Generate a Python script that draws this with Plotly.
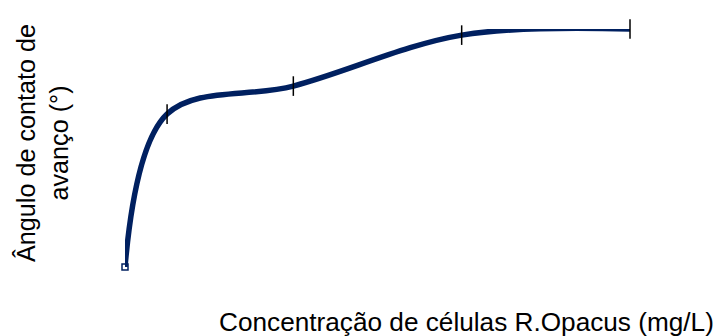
import plotly.graph_objects as go

# Cell concentration (mg/L) and advancing contact angle (degrees)
concentracao = [0, 25, 100, 200, 300]
angulo = [40.0, 70.0, 75.5, 85.5, 86.7]

x_title = "Concentração de células R.Opacus (mg/L)"
y_title = "Ângulo de contato de<br>avanço (°)"

navy = "#002060"
font_family = "Liberation Sans, Arial, sans-serif"

fig = go.Figure()

# smoothed curve
fig.add_trace(go.Scatter(
    x=concentracao, y=angulo, mode="lines",
    line=dict(color=navy, width=5.5, shape="spline", smoothing=1.0),
    cliponaxis=False, hoverinfo="skip", showlegend=False,
))

# tick-style markers on the measured points
fig.add_trace(go.Scatter(
    x=concentracao[1:], y=angulo[1:], mode="markers",
    marker=dict(symbol="line-ns", size=14, color="black",
                line=dict(color="black", width=1.5)),
    cliponaxis=False, showlegend=False,
))

# open square on the first point
fig.add_trace(go.Scatter(
    x=concentracao[:1], y=angulo[:1], mode="markers",
    marker=dict(symbol="square-open", size=6, color=navy,
                line=dict(color=navy, width=1.5)),
    cliponaxis=False, showlegend=False,
))

fig.update_layout(
    width=722, height=336,
    margin=dict(l=125, r=92, t=29, b=69),
    paper_bgcolor="white", plot_bgcolor="white",
    font=dict(family=font_family, color="black"),
    xaxis=dict(range=[0, 300], visible=False),
    yaxis=dict(range=[40, 86.7], visible=False),
    annotations=[
        dict(text=x_title, xref="paper", yref="paper",
             x=(716 - 125) / 505, y=(267 - 322) / 238,
             xanchor="right", yanchor="middle", showarrow=False,
             font=dict(size=26.2, family=font_family, color="black")),
        dict(text=y_title, xref="paper", yref="paper",
             x=(42 - 125) / 505, y=(267 - 143) / 238,
             xanchor="center", yanchor="middle", textangle=-90,
             showarrow=False,
             font=dict(size=25.2, family=font_family, color="black")),
    ],
)

fig.write_html("out.html")
